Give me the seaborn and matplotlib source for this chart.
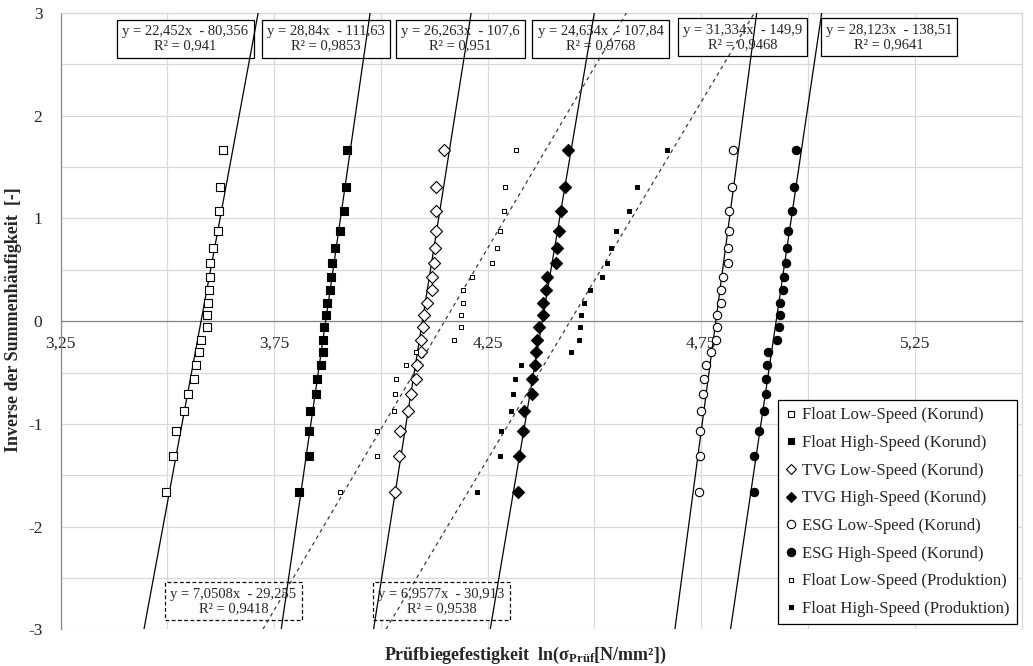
import numpy as np
import pandas as pd
import matplotlib
matplotlib.use("Agg")
import matplotlib.pyplot as plt
from matplotlib.lines import Line2D
import seaborn as sns

# ---------------- data ----------------
y_levels = [-1.668, -1.309, -1.068, -0.876, -0.712, -0.566, -0.431, -0.303, -0.180, -0.060,
            0.060, 0.180, 0.303, 0.431, 0.566, 0.712, 0.876, 1.068, 1.309, 1.668]

float_low_korund = [3.4970, 3.5138, 3.5208, 3.5396, 3.5475, 3.5633, 3.5663, 3.5752, 3.5791, 3.5920,
                    3.5937, 3.5959, 3.5969, 3.6009, 3.6009, 3.6078, 3.6194, 3.6216, 3.6241, 3.6310]
float_high_korund = [3.8090, 3.8323, 3.8323, 3.8343, 3.8488, 3.8511, 3.8605, 3.8649, 3.8649, 3.8675,
                     3.8719, 3.8748, 3.8818, 3.8837, 3.8862, 3.8933, 3.9050, 3.9144, 3.9174, 3.9213]
tvg_low_korund = [4.0338, 4.0430, 4.0454, 4.0627, 4.0711, 4.0828, 4.0852, 4.0944, 4.0944, 4.0993,
                  4.1013, 4.1086, 4.1201, 4.1201, 4.1250, 4.1273, 4.1297, 4.1297, 4.1297, 4.1484]
tvg_high_korund = [4.3217, 4.3227, 4.3327, 4.3350, 4.3530, 4.3544, 4.3614, 4.3638, 4.3661, 4.3708,
                   4.3802, 4.3802, 4.3871, 4.3895, 4.4106, 4.4123, 4.4169, 4.4216, 4.4302, 4.4387]
esg_low_korund = [4.7453, 4.7477, 4.7477, 4.7493, 4.7547, 4.7563, 4.7610, 4.7720, 4.7851, 4.7875,
                  4.7875, 4.7969, 4.7969, 4.8008, 4.8118, 4.8132, 4.8142, 4.8156, 4.8226, 4.8250]
esg_high_korund = [4.8741, 4.8741, 4.8843, 4.8960, 4.9014, 4.9021, 4.9031, 4.9054, 4.9280, 4.9327,
                   4.9342, 4.9349, 4.9405, 4.9443, 4.9489, 4.9506, 4.9536, 4.9631, 4.9677, 4.9724]
float_low_prod = [3.9043, 3.9900, 3.9908, 4.0300, 4.0321, 4.0347, 4.0588, 4.0815, 4.1711, 4.1868,
                  4.1868, 4.1915, 4.1915, 4.2126, 4.2594, 4.2710, 4.2780, 4.2872, 4.2897, 4.3155]
float_high_prod = [4.2249, 4.2795, 4.2819, 4.3055, 4.3102, 4.3149, 4.3290, 4.4440, 4.4629, 4.4652,
                   4.4676, 4.4747, 4.4895, 4.5176, 4.5286, 4.5380, 4.5496, 4.5808, 4.5988, 4.6697]

series_names = ["Float Low-Speed (Korund)", "Float High-Speed (Korund)",
                "TVG Low-Speed (Korund)", "TVG High-Speed (Korund)",
                "ESG Low-Speed (Korund)", "ESG High-Speed (Korund)",
                "Float Low-Speed (Produktion)", "Float High-Speed (Produktion)"]
series_values = [float_low_korund, float_high_korund, tvg_low_korund, tvg_high_korund,
                 esg_low_korund, esg_high_korund, float_low_prod, float_high_prod]

# trendline coefficients (y = m*x + b) and R^2 shown on the chart
trend_slopes = [22.452, 28.84, 26.263, 24.634, 31.334, 28.123, 7.0508, 6.9577]
trend_intercepts = [-80.356, -111.63, -107.6, -107.84, -149.9, -138.51, -29.255, -30.913]
trend_r2 = [0.941, 0.9853, 0.951, 0.9768, 0.9468, 0.9641, 0.9418, 0.9538]

x_tick_values = [3.25, 3.75, 4.25, 4.75, 5.25]
x_tick_labels = ["3,25", "3,75", "4,25", "4,75", "5,25"]
y_tick_values = [-3, -2, -1, 0, 1, 2, 3]
y_tick_labels = ["-3", "-2", "-1", "0", "1", "2", "3"]

# ---------------- styling ----------------
sns.set_style("white")
plt.rcParams["font.family"] = ["Liberation Serif", "DejaVu Serif"]
plt.rcParams["axes.unicode_minus"] = False
plt.rcParams["mathtext.fontset"] = "custom"
plt.rcParams["mathtext.rm"] = "Liberation Serif:bold"
plt.rcParams["mathtext.bf"] = "Liberation Serif:bold"
plt.rcParams["mathtext.it"] = "Liberation Serif:bold:italic"

# marker styles per series: (marker, size, face, edge lw)
styles = [("s", 26, "white", 0.8), ("s", 26, "black", 0.8),
          ("D", 38, "white", 0.8), ("D", 38, "black", 0.8),
          ("o", 36, "white", 0.8), ("o", 36, "black", 0.8),
          ("s", 6, "white", 0.7), ("s", 6, "black", 0.7)]
legend_sizes = [4.6, 4.6, 5.0, 5.0, 6.0, 6.0, 2.6, 2.6]
line_styles = ["-"] * 6 + [(0, (3, 3))] * 2

W, H = 1033, 666
fig = plt.figure(figsize=(W / 100, H / 100), dpi=100)
L, R, T, B = 60.5, 1021.7, 13.0, 629.3
ax = fig.add_axes([L / W, 1 - B / H, (R - L) / W, (B - T) / H])

df = pd.DataFrame({
    "x": np.concatenate(series_values),
    "y": np.tile(y_levels, len(series_values)),
    "series": np.repeat(series_names, len(y_levels)),
})

for name, (mk, s, fc, lw) in zip(series_names, styles):
    sub = df[df["series"] == name]
    sns.scatterplot(data=sub, x="x", y="y", ax=ax, marker=mk, s=s, color=fc,
                    edgecolor="black", linewidth=lw, zorder=4, legend=False)

# trendlines over the full y range
y_line = np.array([-3.0, 3.0])
for m, b, ls in zip(trend_slopes, trend_intercepts, line_styles):
    col = "black" if ls == "-" else "#3a3a3a"
    ax.plot((y_line - b) / m, y_line, color=col, lw=0.9, ls=ls, zorder=3)

ax.set_xlim(3.25, 5.5)
ax.set_ylim(-3, 3)
ax.set_xticks(x_tick_values)
ax.set_xticklabels(x_tick_labels)
ax.set_xticks(np.arange(3.25, 5.5001, 0.25), minor=True)
ax.set_yticks(y_tick_values)
ax.set_yticklabels(y_tick_labels)
ax.set_yticks(np.arange(-3, 3.0001, 0.5), minor=True)
ax.set_axisbelow(True)
ax.grid(True, which="both", color="#d9d9d9", lw=0.9)
ax.tick_params(which="minor", length=0)
ax.tick_params(axis="x", which="major", direction="out", length=3, width=0.9,
               color="#868686", pad=7.5, labelsize=12.5)
ax.tick_params(axis="y", which="major", direction="out", length=4, width=0.9,
               color="#868686", pad=9, labelsize=12.5)
ax.spines["bottom"].set_position(("data", 0))
for sp in ["bottom", "left"]:
    ax.spines[sp].set_color("#868686")
    ax.spines[sp].set_linewidth(0.9)
for sp in ["top", "right"]:
    ax.spines[sp].set_color("#d9d9d9")
    ax.spines[sp].set_linewidth(0.9)
ax.set_xlabel("")
ax.set_ylabel("")


def fmt(v):
    return str(v).replace(".", ",")


# equation boxes: centres in pixels
box_centres = [(185.5, 38.8), (326.2, 38.8), (460.7, 38.8), (600.5, 38.8),
               (742.3, 37.3), (889.2, 37.3), (233.5, 601.3), (441.5, 601.3)]
for i, (m, b, r2) in enumerate(zip(trend_slopes, trend_intercepts, trend_r2)):
    cx, cy = box_centres[i]
    txt = f"y = {fmt(m)}x  - {fmt(-b)}\nR² = {fmt(r2)}"
    ax.text((cx - L) / (R - L), (B - cy) / (B - T), txt, transform=ax.transAxes,
            ha="center", va="center", multialignment="center", fontsize=10.5,
            linespacing=1.15, zorder=2,
            bbox=dict(boxstyle="square,pad=0.35", fc="white", ec="black", lw=0.9,
                      ls="-" if i < 6 else (0, (3, 2))))

# legend
handles = []
for (mk, s, fc, lw), ms, name in zip(styles, legend_sizes, series_names):
    handles.append(Line2D([], [], ls="none", marker=mk, markersize=ms,
                          markerfacecolor=fc, markeredgecolor="black",
                          markeredgewidth=0.8, label=name))
leg = ax.legend(handles=handles, loc="lower right",
                bbox_to_anchor=((1016.7 - L) / (R - L), (B - 624) / (B - T)),
                borderaxespad=0, fontsize=12, frameon=True, fancybox=False,
                framealpha=1, edgecolor="black", labelspacing=0.7,
                handlelength=0.7, handletextpad=0.35, borderpad=0.42)
leg.get_frame().set_linewidth(0.9)
leg.set_zorder(10)

# axis titles
fig.text(525 / W, 1 - 655 / H, "Prüfbiegefestigkeit  ln(σ$_{\\mathbf{Prüf}}$[N/mm²])",
         ha="center", va="center", fontsize=13, fontweight="bold")
fig.text(13.5 / W, 1 - 320 / H, "Inverse der Summenhäufigkeit  [-]", rotation=90,
         ha="center", va="center", fontsize=13, fontweight="bold")

fig.savefig("out.png", dpi=100)
